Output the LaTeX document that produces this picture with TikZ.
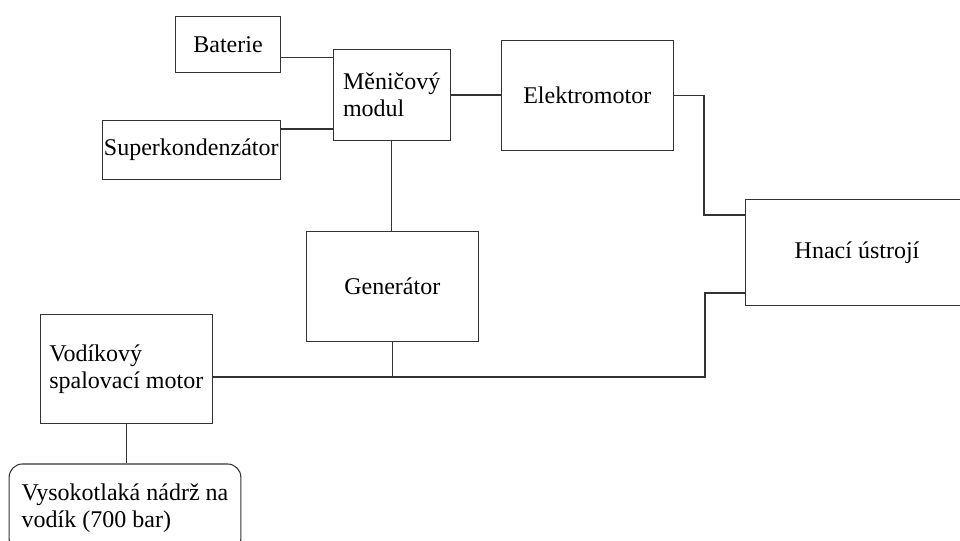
\documentclass[tikz,border=0pt]{standalone}
\usepackage{fontspec}
\setmainfont{Liberation Serif}

\begin{document}
\begin{tikzpicture}[x=0.75pt, y=-0.75pt, line width=0.8pt,
    every node/.style={font=\fontsize{18}{20}\selectfont},
    blok/.style={draw=black!80, inner sep=0pt, align=center},
    blokL/.style={blok, align=left},
    spoj/.style={draw=black!80, line width=0.8pt}]
    % 1. rozmer obrazku a orez (prava a dolni krabice jsou useknute)
    \useasboundingbox (0,0) rectangle (960,541);
    \clip (0,0) rectangle (960,541);

    % 2. bloky
    \node[blok, minimum width=78.5pt, minimum height=41.5pt] (bat) at (228,44.5) {Baterie};
    \node[blokL, minimum width=88pt, minimum height=68.5pt] (men) at (391.7,95) {Měničový\\modul};
    \node[blok, minimum width=133.5pt, minimum height=44.3pt] (sup) at (191.3,149.8) {Superkondenzátor};
    \node[blok, minimum width=129pt, minimum height=82.3pt] (ele) at (587.3,95.2) {Elektromotor};
    \node[blok, minimum width=129pt, minimum height=82pt] (gen) at (392.3,286.4) {Generátor};
    \node[blok, minimum width=167pt, minimum height=79.5pt] (hna) at (857,252.3) {Hnací ústrojí};
    \node[blokL, minimum width=129pt, minimum height=82pt] (vod) at (126.3,369) {Vodíkový\\spalovací motor};
    \node[blokL, rounded corners=10pt, minimum width=173.8pt, minimum height=66pt] (nad) at (125,508) {Vysokotlaká nádrž na\\vodík (700 bar)};

    % 3. body zlomu vedeni
    \coordinate (zlomH) at (704,215);
    \coordinate (zlomD) at (705,377);

    % 4. spoje
    \draw[spoj] (bat.east |- 0,57.3) -- (men.west |- 0,57.3);
    \draw[spoj] (sup.east |- 0,129) -- (men.west |- 0,129);
    \draw[spoj] (men.east) -- (men.east -| ele.west);
    \draw[spoj] (men.south) -- (men.south |- gen.north);
    \draw[spoj] (ele.east) -| (zlomH) -- (zlomH -| hna.west);
    \draw[spoj] (vod.east |- zlomD) -- (zlomD) |- (hna.west |- 0,293);
    \draw[spoj] (gen.south) -- (gen.south |- zlomD);
    \draw[spoj] (vod.south) -- (vod.south |- nad.north);
\end{tikzpicture}
\end{document}
